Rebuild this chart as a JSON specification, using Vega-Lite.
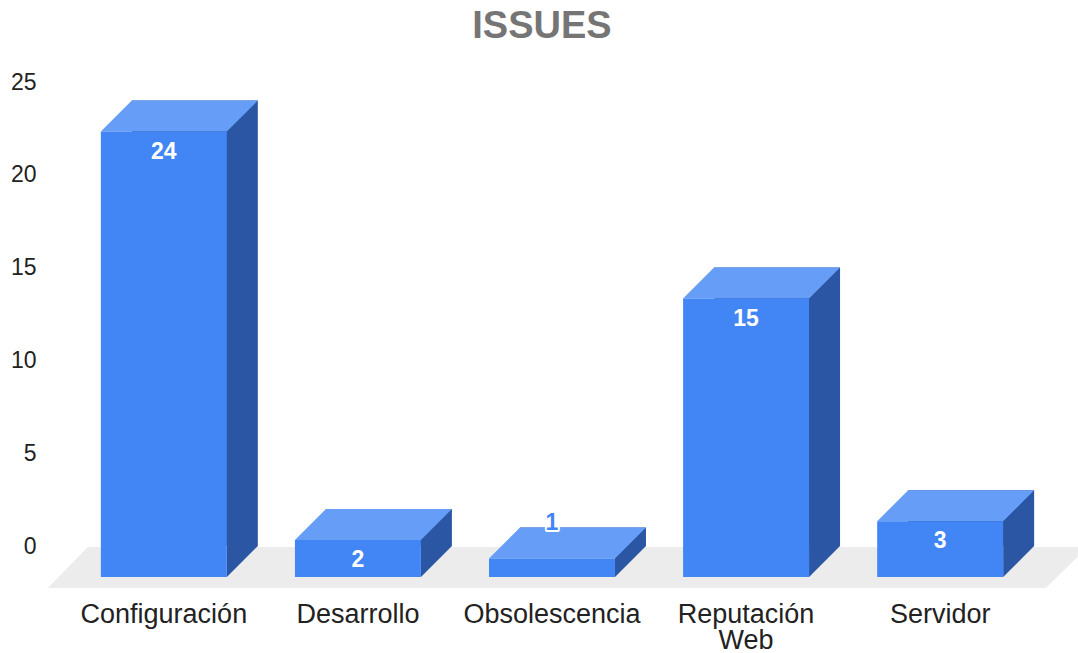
{
  "$schema": "https://vega.github.io/schema/vega-lite/v6.json",
  "autosize": {"type": "none"},
  "padding": {"left": 88, "top": 82, "right": 0, "bottom": 107},
  "width": 990,
  "height": 464,
  "background": "white",
  "title": {
    "text": "ISSUES",
    "fontSize": 38,
    "fontWeight": "bold",
    "font": "Liberation Sans",
    "color": "#757575",
    "anchor": "middle",
    "frame": "group",
    "dx": -41,
    "baseline": "alphabetic",
    "offset": -5
  },
  "config": {
    "view": {"stroke": null},
    "font": "Liberation Sans"
  },
  "data": {
    "values": [
      {"category": "Configuración", "value": 24},
      {"category": "Desarrollo", "value": 2},
      {"category": "Obsolescencia", "value": 1},
      {"category": "Reputación Web", "value": 15},
      {"category": "Servidor", "value": 3}
    ]
  },
  "encoding": {
    "x": {
      "field": "category",
      "type": "nominal",
      "sort": null,
      "scale": {"paddingInner": 0.351, "paddingOuter": 0.226},
      "axis": {
        "title": null,
        "domain": false,
        "ticks": false,
        "tickSize": 0,
        "labelAngle": 0,
        "labelFontSize": 27,
        "labelFont": "Liberation Sans",
        "labelColor": "#222222",
        "labelBaseline": "alphabetic",
        "labelPadding": 76,
        "labelOffset": -31,
        "labelLineHeight": 26,
        "labelExpr": "split(datum.label, ' ')"
      }
    }
  },
  "layer": [
    {
      "transform": [{"filter": "datum.category === 'Configuración'"}],
      "mark": {
        "type": "point",
        "shape": "M-107,1L893,1L851,42L-147,42Z",
        "size": 4,
        "filled": true,
        "opacity": 1,
        "strokeWidth": 0,
        "color": "#ececec"
      },
      "encoding": {
        "y": {"datum": 0, "type": "quantitative", "scale": {"domain": [0, 25], "nice": false, "zero": true}}
      }
    },
    {
      "mark": {"type": "bar", "color": "#2b56a3"},
      "encoding": {
        "y": {
          "field": "value",
          "type": "quantitative",
          "stack": null,
          "axis": {
            "title": null,
            "domain": false,
            "ticks": false,
            "tickSize": 0,
            "values": [0, 5, 10, 15, 20, 25],
            "labelFontSize": 23,
            "labelFont": "Liberation Sans",
            "labelColor": "#222222",
            "labelPadding": 52,
            "gridColor": {"condition": {"test": "datum.value === 0", "value": "#333333"}, "value": "#cccccc"},
            "gridWidth": {"condition": {"test": "datum.value === 0", "value": 2}, "value": 1}
          }
        },
        "y2": {"datum": 0}
      }
    },
    {
      "mark": {
        "type": "point",
        "shape": "M32,0L63,0L32,31Z",
        "size": 4,
        "filled": true,
        "opacity": 1,
        "strokeWidth": 0,
        "color": "#2b56a3"
      },
      "encoding": {
        "y": {"datum": 0, "type": "quantitative"}
      }
    },
    {
      "mark": {
        "type": "point",
        "shape": "M-63,0L63,0L32,31L-94,31Z",
        "size": 4,
        "filled": true,
        "opacity": 1,
        "strokeWidth": 0,
        "color": "#669df6"
      },
      "encoding": {
        "y": {"field": "value", "type": "quantitative"}
      }
    },
    {
      "mark": {
        "type": "bar",
        "color": "#4285f4",
        "xOffset": -31,
        "yOffset": 31,
        "y2Offset": 31
      },
      "encoding": {
        "y": {"field": "value", "type": "quantitative", "stack": null},
        "y2": {"datum": 0}
      }
    },
    {
      "transform": [{"filter": "datum.value >= 2"}],
      "mark": {
        "type": "text",
        "color": "white",
        "fontSize": 23,
        "fontWeight": "bold",
        "font": "Liberation Sans",
        "baseline": "middle",
        "xOffset": -31,
        "yOffset": 51
      },
      "encoding": {
        "y": {"field": "value", "type": "quantitative"},
        "text": {"field": "value", "type": "quantitative"}
      }
    },
    {
      "transform": [{"filter": "datum.value < 2"}],
      "mark": {
        "type": "text",
        "color": "white",
        "stroke": "white",
        "strokeWidth": 4,
        "strokeJoin": "round",
        "fontSize": 23,
        "fontWeight": "bold",
        "font": "Liberation Sans",
        "baseline": "middle",
        "xOffset": -31,
        "yOffset": -4
      },
      "encoding": {
        "y": {"field": "value", "type": "quantitative"},
        "text": {"field": "value", "type": "quantitative"}
      }
    },
    {
      "transform": [{"filter": "datum.value < 2"}],
      "mark": {
        "type": "text",
        "color": "#4285f4",
        "fontSize": 23,
        "fontWeight": "bold",
        "font": "Liberation Sans",
        "baseline": "middle",
        "xOffset": -31,
        "yOffset": -4
      },
      "encoding": {
        "y": {"field": "value", "type": "quantitative"},
        "text": {"field": "value", "type": "quantitative"}
      }
    }
  ]
}
